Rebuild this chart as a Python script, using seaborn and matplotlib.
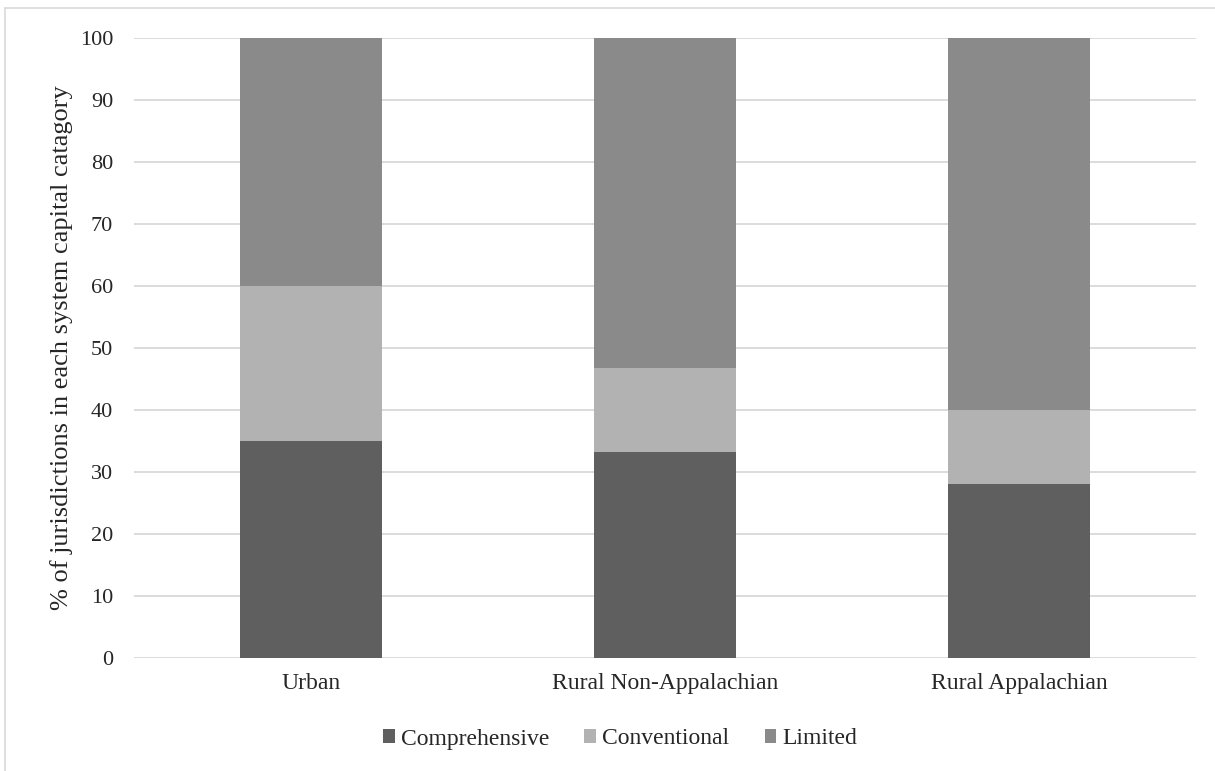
import matplotlib
matplotlib.use("Agg")
import matplotlib.pyplot as plt
import seaborn as sns
import pandas as pd
from matplotlib.lines import Line2D
from matplotlib.patches import Patch

categories = ["Urban", "Rural Non-Appalachian", "Rural Appalachian"]
series = ["Comprehensive", "Conventional", "Limited"]
comprehensive = [35.0, 33.3, 28.0]
conventional = [25.0, 13.4, 12.0]
limited = [40.0, 53.3, 60.0]
colors = ["#5f5f5f", "#b2b2b2", "#8a8a8a"]
yticks = [0, 10, 20, 30, 40, 50, 60, 70, 80, 90, 100]

sns.set_theme(style="white")
plt.rcParams["font.family"] = ["Liberation Serif", "DejaVu Serif"]

fig = plt.figure(figsize=(12.15, 7.71), dpi=100)
ax = fig.add_axes([134 / 1215, 1 - 658 / 771, (1196 - 134) / 1215, (658 - 38) / 771])

df = pd.DataFrame({"cat": categories, "Comprehensive": comprehensive,
                   "Conventional": conventional, "Limited": limited})
cum = []
acc = [0.0] * len(categories)
for s in series:
    acc = [a + v for a, v in zip(acc, df[s])]
    cum.append(list(acc))
for s, c, top in reversed(list(zip(series, colors, cum))):
    sns.barplot(x=categories, y=top, color=c, width=0.4, ax=ax, saturation=1,
                edgecolor="none", linewidth=0, zorder=3)

ax.set_ylim(0, 100)
ax.set_xlim(-0.5, 2.5)
ax.set_yticks(yticks)
ax.set_yticklabels([str(t) for t in yticks], fontsize=16)
ax.tick_params(axis="x", labelsize=17, length=0, pad=11)
ax.tick_params(axis="y", length=0, pad=15)
ax.yaxis.grid(True, color="#d9d9d9", linewidth=1.3, zorder=0)
ax.set_axisbelow(True)
for sp in ax.spines.values():
    sp.set_visible(False)
ax.set_ylabel("% of jurisdictions in each system capital catagory", fontsize=19, labelpad=5)
ax.set_xlabel("")

handles = [Patch(facecolor=c, edgecolor="none", label=s) for s, c in zip(series, colors)]
fig.legend(handles=handles, loc="center", bbox_to_anchor=(620 / 1215, 1 - 739 / 771),
           ncol=3, frameon=False, fontsize=17, handlelength=0.5, handleheight=0.5,
           handletextpad=0.25, columnspacing=1.5)

fig.add_artist(Line2D([5 / 1215, 5 / 1215], [0, 1 - 8 / 771], transform=fig.transFigure,
                      color="#d9d9d9", linewidth=1.2))
fig.add_artist(Line2D([5 / 1215, 1], [1 - 8 / 771, 1 - 8 / 771], transform=fig.transFigure,
                      color="#d9d9d9", linewidth=1.2))

fig.savefig("out.png", dpi=100)
